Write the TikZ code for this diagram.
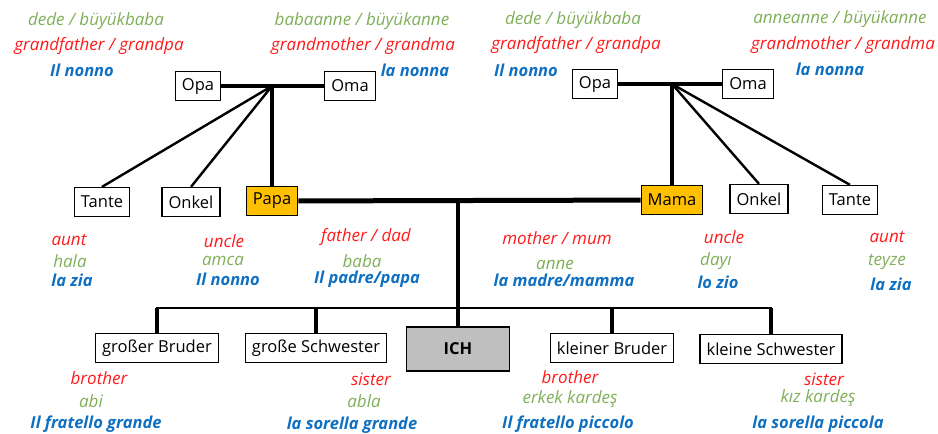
\documentclass[tikz,border=0pt]{standalone}
\usepackage{fontspec}
\setmainfont{Open Sans}
\usetikzlibrary{positioning,calc}
\definecolor{orng}{HTML}{FFC000}
\definecolor{grau}{HTML}{BFBFBF}
\definecolor{trgreen}{HTML}{7FAF58}
\definecolor{enred}{HTML}{FF1A1A}
\definecolor{itblue}{HTML}{0F6FC0}

\begin{document}
\begin{tikzpicture}[x=1pt,y=-1pt,
  box/.style={draw,line width=1.3pt,minimum height=29pt,inner xsep=6.5pt,font=\fontsize{16.5}{18}\selectfont},
  tr/.style={text=trgreen,font=\itshape\fontsize{17}{19}\selectfont},
  en/.style={text=enred,font=\itshape\fontsize{17}{19}\selectfont},
  it/.style={text=itblue,font=\bfseries\itshape\fontsize{16.5}{19}\selectfont},
  fat/.style={line width=3.4pt},
  thin/.style={line width=2.4pt}]
\useasboundingbox (0,0) rectangle (938,434);

% grandparents
\node[box] (opa1) at (198,86) {Opa};
\node[box] (oma1) at (350,86) {Oma};
\node[box] (opa2) at (595,84) {Opa};
\node[box] (oma2) at (748,84) {Oma};
% parents, uncles, aunts
\node[box] (tante1) at (102,202) {Tante};
\node[box] (onkel1) at (191,202) {Onkel};
\node[box,fill=orng] (papa) at (272,201) {Papa};
\node[box,fill=orng] (mama) at (672,200) {Mama};
\node[box] (onkel2) at (759,199) {Onkel};
\node[box] (tante2) at (850,200) {Tante};
% children
\node[box,minimum width=103pt,minimum height=44pt,fill=grau,font=\bfseries\fontsize{16.5}{18}\selectfont] (ich) at (458,349) {ICH};
\node[box] (gb) at (157,348) {großer Bruder};
\node[box] (gs) at (316,348) {große Schwester};
\node[box] (kb) at (612,348) {kleiner Bruder};
\node[box] (ks) at (771,349) {kleine Schwester};

\coordinate (j1) at (papa.north |- opa1.east);
\coordinate (j2) at (mama.north |- opa2.east);
\coordinate (j3) at (ich.north |- papa.east);
\coordinate (s) at (ich.north |- 0,308);

\draw[fat] (opa1) -- (oma1);
\draw[fat] (opa2) -- (oma2);
\draw[fat] (j1) -- (papa.north);
\draw[fat] (j2) -- (mama.north);
\foreach \n in {tante1,onkel1}
  \draw[thin] (j1) -- (\n.north);
\foreach \n in {onkel2,tante2}
  \draw[thin] (j2) -- (\n.north);
\draw[line width=5pt] (papa) -- (mama);
\draw[line width=4.5pt] (j3) -- (ich.north);
\draw[line width=2pt] (gb.north) |- (s) -| (ks.north);
\foreach \n in {gb,gs,kb,ks}
  \draw[fat] (\n.north) -- (\n.north |- s);

% labels grandparents
\node[tr] (opa1tr) at (96,21) {dede / büyükbaba};
\node[en] (opa1en) at (99,46) {grandfather / grandpa};
\node[it] (opa1it) at (82,70) {Il nonno};
\node[tr] (oma1tr) at (362,21) {babaanne / büyükanne};
\node[en] (oma1en) at (363,46) {grandmother / grandma};
\node[it] (oma1it) at (415,70) {la nonna};
\node[tr] (opa2tr) at (573,20) {dede / büyükbaba};
\node[en] (opa2en) at (576,45) {grandfather / grandpa};
\node[it] (opa2it) at (526,70) {Il nonno};
\node[tr] (oma2tr) at (840,19) {anneanne / büyükanne};
\node[en] (oma2en) at (843,45) {grandmother / grandma};
\node[it] (oma2it) at (830,69) {la nonna};

% labels parents
\node[en] (tante1en) at (69,240) {aunt};
\node[tr] (tante1tr) at (70,261) {hala};
\node[it] (tante1it) at (72,280) {la zia};
\node[en] (onkel1en) at (224,241) {uncle};
\node[tr] (onkel1tr) at (223,261) {amca};
\node[it] (onkel1it) at (228,279) {Il nonno};
\node[en] (papaen) at (366,237) {father / dad};
\node[tr] (papatr) at (362,261) {baba};
\node[it] (papait) at (367,279) {Il padre/papa};
\node[en] (mamaen) at (557,238) {mother / mum};
\node[tr] (mamatr) at (555,265) {anne};
\node[it] (mamait) at (564,280) {la madre/mamma};
\node[en] (onkel2en) at (724,237) {uncle};
\node[tr] (onkel2tr) at (716,261) {dayı};
\node[it] (onkel2it) at (718,282) {lo zio};
\node[en] (tante2en) at (887,237) {aunt};
\node[tr] (tante2tr) at (887,262) {teyze};
\node[it] (tante2it) at (891,284) {la zia};

% labels children
\node[en] (gben) at (99,378) {brother};
\node[tr] (gbtr) at (91,401) {abi};
\node[it] (gbit) at (96,424) {Il fratello grande};
\node[en] (gsen) at (371,379) {sister};
\node[tr] (gstr) at (364,401) {abla};
\node[it] (gsit) at (352,425) {la sorella grande};
\node[en] (kben) at (570,377) {brother};
\node[tr] (kbtr) at (570,399) {erkek kardeş};
\node[it] (kbit) at (568,424) {Il fratello piccolo};
\node[en] (ksen) at (824,379) {sister};
\node[tr] (kstr) at (818,398) {kız kardeş};
\node[it] (ksit) at (818,424) {la sorella piccola};
\end{tikzpicture}
\end{document}
